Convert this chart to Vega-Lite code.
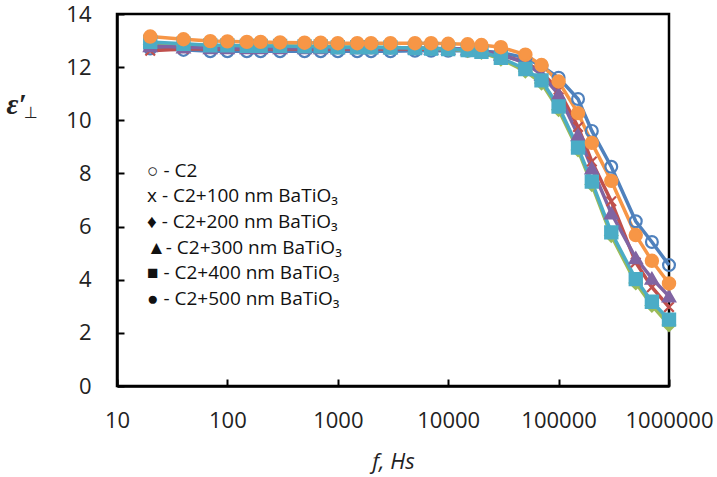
{
  "$schema": "https://vega.github.io/schema/vega-lite/v6.json",
  "width": 552,
  "height": 372,
  "autosize": {"type": "none"},
  "padding": {"left": 117, "top": 14, "right": 48, "bottom": 91},
  "background": "white",
  "title": {"text": "⊥", "anchor": "start", "frame": "group", "orient": "top", "dx": -93, "dy": 131, "baseline": "alphabetic", "offset": 0, "font": "DejaVu Sans", "fontSize": 16, "fontWeight": "normal", "color": "#222222"},
  "config": {
    "font": "Open Sans",
    "view": {"stroke": "black", "strokeWidth": 2.5},
    "axis": {"grid": false, "domainColor": "black", "domainWidth": 2.5, "tickColor": "black", "tickWidth": 2, "tickSize": -7, "labelFont": "Open Sans", "labelFontSize": 22, "labelColor": "#222222", "titleColor": "#222222"}
  },
  "datasets": {
    "d": [
      {"s":"C2","f":20,"e":12.7},{"s":"C2","f":40,"e":12.65},{"s":"C2","f":70,"e":12.6},{"s":"C2","f":100,"e":12.6},{"s":"C2","f":150,"e":12.6},{"s":"C2","f":200,"e":12.6},{"s":"C2","f":300,"e":12.6},{"s":"C2","f":500,"e":12.6},{"s":"C2","f":700,"e":12.6},{"s":"C2","f":1000,"e":12.6},{"s":"C2","f":1500,"e":12.6},{"s":"C2","f":2000,"e":12.6},{"s":"C2","f":3000,"e":12.6},{"s":"C2","f":5000,"e":12.62},{"s":"C2","f":7000,"e":12.62},{"s":"C2","f":10000,"e":12.62},{"s":"C2","f":15000,"e":12.62},{"s":"C2","f":20000,"e":12.6},{"s":"C2","f":30000,"e":12.55},{"s":"C2","f":50000,"e":12.35},{"s":"C2","f":70000,"e":12.05},{"s":"C2","f":100000,"e":11.6},{"s":"C2","f":150000,"e":10.8},{"s":"C2","f":200000,"e":9.6},{"s":"C2","f":300000,"e":8.25},{"s":"C2","f":500000,"e":6.2},{"s":"C2","f":700000,"e":5.42},{"s":"C2","f":1000000,"e":4.55},
      {"s":"100","f":20,"e":12.62},{"s":"100","f":40,"e":12.68},{"s":"100","f":70,"e":12.68},{"s":"100","f":100,"e":12.68},{"s":"100","f":150,"e":12.68},{"s":"100","f":200,"e":12.68},{"s":"100","f":300,"e":12.68},{"s":"100","f":500,"e":12.68},{"s":"100","f":700,"e":12.68},{"s":"100","f":1000,"e":12.68},{"s":"100","f":1500,"e":12.68},{"s":"100","f":2000,"e":12.68},{"s":"100","f":3000,"e":12.68},{"s":"100","f":5000,"e":12.68},{"s":"100","f":7000,"e":12.66},{"s":"100","f":10000,"e":12.66},{"s":"100","f":15000,"e":12.64},{"s":"100","f":20000,"e":12.6},{"s":"100","f":30000,"e":12.45},{"s":"100","f":50000,"e":12.2},{"s":"100","f":70000,"e":11.8},{"s":"100","f":100000,"e":11.15},{"s":"100","f":150000,"e":9.75},{"s":"100","f":200000,"e":8.45},{"s":"100","f":300000,"e":6.95},{"s":"100","f":500000,"e":4.65},{"s":"100","f":700000,"e":3.72},{"s":"100","f":1000000,"e":2.97},
      {"s":"200","f":20,"e":12.85},{"s":"200","f":40,"e":12.82},{"s":"200","f":70,"e":12.8},{"s":"200","f":100,"e":12.8},{"s":"200","f":150,"e":12.8},{"s":"200","f":200,"e":12.8},{"s":"200","f":300,"e":12.8},{"s":"200","f":500,"e":12.8},{"s":"200","f":700,"e":12.78},{"s":"200","f":1000,"e":12.76},{"s":"200","f":1500,"e":12.76},{"s":"200","f":2000,"e":12.75},{"s":"200","f":3000,"e":12.74},{"s":"200","f":5000,"e":12.72},{"s":"200","f":7000,"e":12.7},{"s":"200","f":10000,"e":12.68},{"s":"200","f":15000,"e":12.62},{"s":"200","f":20000,"e":12.55},{"s":"200","f":30000,"e":12.3},{"s":"200","f":50000,"e":11.85},{"s":"200","f":70000,"e":11.4},{"s":"200","f":100000,"e":10.4},{"s":"200","f":150000,"e":8.88},{"s":"200","f":200000,"e":7.58},{"s":"200","f":300000,"e":5.66},{"s":"200","f":500000,"e":3.88},{"s":"200","f":700000,"e":3.03},{"s":"200","f":1000000,"e":2.3},
      {"s":"300","f":20,"e":12.8},{"s":"300","f":40,"e":12.75},{"s":"300","f":70,"e":12.72},{"s":"300","f":100,"e":12.72},{"s":"300","f":150,"e":12.72},{"s":"300","f":200,"e":12.72},{"s":"300","f":300,"e":12.72},{"s":"300","f":500,"e":12.72},{"s":"300","f":700,"e":12.72},{"s":"300","f":1000,"e":12.72},{"s":"300","f":1500,"e":12.72},{"s":"300","f":2000,"e":12.72},{"s":"300","f":3000,"e":12.72},{"s":"300","f":5000,"e":12.72},{"s":"300","f":7000,"e":12.7},{"s":"300","f":10000,"e":12.7},{"s":"300","f":15000,"e":12.68},{"s":"300","f":20000,"e":12.63},{"s":"300","f":30000,"e":12.48},{"s":"300","f":50000,"e":12.15},{"s":"300","f":70000,"e":11.72},{"s":"300","f":100000,"e":10.98},{"s":"300","f":150000,"e":9.45},{"s":"300","f":200000,"e":8.2},{"s":"300","f":300000,"e":6.5},{"s":"300","f":500000,"e":4.82},{"s":"300","f":700000,"e":4.05},{"s":"300","f":1000000,"e":3.38},
      {"s":"400","f":20,"e":12.95},{"s":"400","f":40,"e":12.88},{"s":"400","f":70,"e":12.82},{"s":"400","f":100,"e":12.82},{"s":"400","f":150,"e":12.8},{"s":"400","f":200,"e":12.8},{"s":"400","f":300,"e":12.8},{"s":"400","f":500,"e":12.78},{"s":"400","f":700,"e":12.78},{"s":"400","f":1000,"e":12.75},{"s":"400","f":1500,"e":12.75},{"s":"400","f":2000,"e":12.75},{"s":"400","f":3000,"e":12.74},{"s":"400","f":5000,"e":12.72},{"s":"400","f":7000,"e":12.7},{"s":"400","f":10000,"e":12.68},{"s":"400","f":15000,"e":12.64},{"s":"400","f":20000,"e":12.58},{"s":"400","f":30000,"e":12.35},{"s":"400","f":50000,"e":11.93},{"s":"400","f":70000,"e":11.5},{"s":"400","f":100000,"e":10.52},{"s":"400","f":150000,"e":8.97},{"s":"400","f":200000,"e":7.69},{"s":"400","f":300000,"e":5.78},{"s":"400","f":500000,"e":4.02},{"s":"400","f":700000,"e":3.17},{"s":"400","f":1000000,"e":2.5},
      {"s":"500","f":20,"e":13.15},{"s":"500","f":40,"e":13.05},{"s":"500","f":70,"e":12.98},{"s":"500","f":100,"e":12.97},{"s":"500","f":150,"e":12.95},{"s":"500","f":200,"e":12.95},{"s":"500","f":300,"e":12.93},{"s":"500","f":500,"e":12.92},{"s":"500","f":700,"e":12.92},{"s":"500","f":1000,"e":12.9},{"s":"500","f":1500,"e":12.9},{"s":"500","f":2000,"e":12.9},{"s":"500","f":3000,"e":12.9},{"s":"500","f":5000,"e":12.9},{"s":"500","f":7000,"e":12.9},{"s":"500","f":10000,"e":12.88},{"s":"500","f":15000,"e":12.86},{"s":"500","f":20000,"e":12.83},{"s":"500","f":30000,"e":12.75},{"s":"500","f":50000,"e":12.47},{"s":"500","f":70000,"e":12.08},{"s":"500","f":100000,"e":11.46},{"s":"500","f":150000,"e":10.27},{"s":"500","f":200000,"e":9.15},{"s":"500","f":300000,"e":7.72},{"s":"500","f":500000,"e":5.68},{"s":"500","f":700000,"e":4.71},{"s":"500","f":1000000,"e":3.86}
    ]
  },
  "data": {"name": "d"},
  "encoding": {
    "x": {"field": "f", "type": "quantitative", "scale": {"type": "log", "domain": [10, 1000000], "nice": false},
      "axis": {"values": [10, 100, 1000, 10000, 100000, 1000000], "format": "d", "labelFlush": false, "labelOverlap": false, "labelBound": false, "labelPadding": 31, "title": "f, Hs", "titleFontSize": 22, "titleFontStyle": "italic", "titleFontWeight": "normal", "titleFont": "Open Sans", "titlePadding": 20}},
    "y": {"field": "e", "type": "quantitative", "scale": {"domain": [0, 14], "nice": false},
      "axis": {"values": [0, 2, 4, 6, 8, 10, 12, 14], "labelPadding": 33, "title": "ε′", "titleAngle": 0, "titleAlign": "left", "titleBaseline": "alphabetic", "titleX": -111, "titleY": 99, "titleFontSize": 29, "titleFontStyle": "italic", "titleFontWeight": "bold", "titleFont": "Liberation Serif"}}
  },
  "layer": [
    {
      "mark": {"type": "line", "strokeWidth": 3.5},
      "encoding": {
        "color": {"field": "s", "type": "nominal", "scale": {"domain": ["500", "400", "300", "200", "100", "C2"], "range": ["#F79646", "#4BACC6", "#8064A2", "#9BBB59", "#C0504D", "#4F81BD"]}, "legend": null},
        "order": {"field": "f"}
      }
    },
    {
      "mark": {"type": "point", "opacity": 1, "strokeWidth": 2.2},
      "encoding": {
        "shape": {"field": "s", "type": "nominal",
          "scale": {"domain": ["C2", "100", "200", "300", "400", "500"], "range": ["circle", "M-0.8,-0.8L0.8,0.8M-0.8,0.8L0.8,-0.8", "diamond", "triangle-up", "square", "circle"]},
          "legend": {"orient": "none", "legendX": 11, "legendY": 147, "title": null, "symbolSize": 0, "symbolOpacity": 0, "symbolStrokeWidth": 0, "labelOffset": 0, "padding": 0, "rowPadding": 5.7, "labelFontSize": 19, "labelFont": "Open Sans", "labelColor": "#111111", "labelLimit": 400,
            "labelExpr": "datum.label === 'C2' ? '○ - C2' : datum.label === '100' ? 'x - C2+100 nm BaTiO₃' : datum.label === '200' ? '♦ - C2+200 nm BaTiO₃' : datum.label === '300' ? '▲- C2+300 nm BaTiO₃' : datum.label === '400' ? '■ - C2+400 nm BaTiO₃' : '● - C2+500 nm BaTiO₃'"}},
        "fill": {"field": "s", "type": "nominal", "scale": {"domain": ["500", "400", "300", "200", "100", "C2"], "range": ["#F79646", "#4BACC6", "#8064A2", "#9BBB59", "transparent", "transparent"]}, "legend": null},
        "stroke": {"field": "s", "type": "nominal", "scale": {"domain": ["500", "400", "300", "200", "100", "C2"], "range": ["#F79646", "#4BACC6", "#8064A2", "#9BBB59", "#C0504D", "#4F81BD"]}, "legend": null},
        "size": {"field": "s", "type": "nominal", "scale": {"domain": ["500", "400", "300", "200", "100", "C2"], "range": [150, 140, 170, 130, 110, 130]}, "legend": null}
      }
    }
  ]
}
